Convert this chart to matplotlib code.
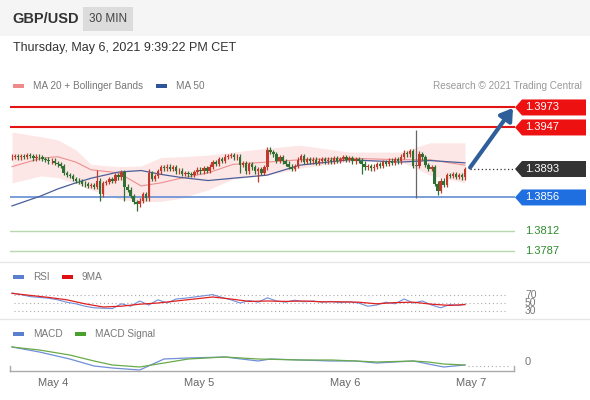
import matplotlib
matplotlib.use('Agg')
import matplotlib.pyplot as plt
from matplotlib.patches import Rectangle, Polygon, FancyBboxPatch
from matplotlib.lines import Line2D

plt.rcParams['font.family'] = ['Liberation Sans', 'DejaVu Sans']

# 30 min candles, GBP/USD, May 3 evening -> May 6 21:30
closes = [
    1.3909, 1.3910, 1.3908, 1.3910, 1.3909, 1.3911, 1.3910, 1.3907, 1.3909, 1.3908,
    1.3906, 1.3905, 1.3903, 1.3904, 1.3901, 1.3899, 1.3897, 1.3888, 1.3885, 1.3884,
    1.3880, 1.3878, 1.3877, 1.3874, 1.3873, 1.3871, 1.3872, 1.3870, 1.3878, 1.3860,
    1.3875, 1.3876, 1.3880, 1.3878, 1.3885, 1.3882, 1.3889, 1.3870, 1.3866, 1.3858,
    1.3850, 1.3847, 1.3852, 1.3860, 1.3855, 1.3888, 1.3880, 1.3884, 1.3890, 1.3895,
    1.3894, 1.3896, 1.3893, 1.3895, 1.3890, 1.3891, 1.3887, 1.3888, 1.3886, 1.3885,
    1.3889, 1.3892, 1.3890, 1.3894, 1.3891, 1.3896, 1.3902, 1.3900, 1.3906, 1.3904,
    1.3909, 1.3910, 1.3911, 1.3908, 1.3909, 1.3898, 1.3901, 1.3890, 1.3899, 1.3895,
    1.3890, 1.3893, 1.3888, 1.3895, 1.3918, 1.3915, 1.3912, 1.3904, 1.3908, 1.3903,
    1.3900, 1.3896, 1.3893, 1.3897, 1.3905, 1.3910, 1.3902, 1.3906, 1.3903, 1.3905,
    1.3901, 1.3904, 1.3906, 1.3903, 1.3905, 1.3903, 1.3907, 1.3904, 1.3906, 1.3908,
    1.3905, 1.3907, 1.3903, 1.3906, 1.3904, 1.3900, 1.3895, 1.3897, 1.3894, 1.3896,
    1.3899, 1.3897, 1.3902, 1.3900, 1.3904, 1.3901, 1.3906, 1.3903, 1.3909, 1.3914,
    1.3912, 1.3916, 1.3897, 1.3897, 1.3912, 1.3908, 1.3898, 1.3893, 1.3895, 1.3874,
    1.3865, 1.3878, 1.3872, 1.3885, 1.3884, 1.3886, 1.3883, 1.3885, 1.3882, 1.3893,
]
first_open = 1.3908
wick_hi = {28: 1.3892, 84: 1.3921, 129: 1.3918, 133: 1.3944, 134: 1.3916, 45: 1.3893}
wick_lo = {29: 1.3851, 37: 1.3852, 41: 1.3838, 81: 1.3876, 115: 1.3886,
           133: 1.3855, 140: 1.3859, 75: 1.3888}

# MA 20 + Bollinger bands, MA 50 (read at some bars)
band_idx = [0, 9.5, 15, 21, 26, 35, 42.5, 49, 55.6, 64.5, 72.7, 83.9, 94.7, 111, 127.6, 137.5, 149]
band_up = [1.3941, 1.3935, 1.3931, 1.3918, 1.3899, 1.3896, 1.3897, 1.3908, 1.3909, 1.3911,
           1.3915, 1.3920, 1.3924, 1.3915, 1.3915, 1.3927, 1.3927]
ma20 = [1.3896, 1.3907, 1.3909, 1.3902, 1.3892, 1.3888, 1.3871, 1.3875, 1.3881, 1.3888,
        1.3899, 1.3902, 1.3905, 1.3907, 1.3905, 1.3905, 1.3898]
band_lo = [1.3875, 1.3884, 1.3882, 1.3874, 1.3866, 1.3854, 1.3850, 1.3851, 1.3855, 1.3866,
           1.3880, 1.3885, 1.3894, 1.3903, 1.3903, 1.3885, 1.3875]
ma50 = [1.3845, 1.3858, 1.3867, 1.3875, 1.3881, 1.3889, 1.3891, 1.3886, 1.3882, 1.3878,
        1.3881, 1.3885, 1.3898, 1.3905, 1.3902, 1.3904, 1.3901]

levels_res = [1.3973, 1.3947]
level_pivot = 1.3856
levels_sup = [1.3812, 1.3787]
last_price = 1.3893

rsi_idx = list(range(0, 150, 3)) + [149]
rsi = [75, 71, 66, 64, 62, 58, 52, 48, 42, 38, 37, 36, 48, 42, 55, 45, 58, 50, 60, 62,
       65, 68, 71, 64, 58, 50, 56, 52, 63, 55, 52, 57, 53, 55, 52, 54, 51, 53, 50, 42,
       45, 52, 48, 60, 50, 55, 45, 38, 46, 44, 47]
rsi_ma_idx = list(range(0, 150, 6)) + [149]
rsi_ma = [74, 69, 64, 58, 48, 40, 42, 47, 50, 55, 60, 65, 60, 54, 55, 54, 55, 53, 53, 52,
          48, 51, 52, 47, 44, 46]

macd_idx = [0, 9, 19, 27, 33, 42, 50, 58, 70, 81, 85, 95, 105, 113, 120, 126, 132, 137, 142, 149]
macd = [19, 14, 7, 0, -2, -4, 7, 8, 9, 5, 7, 6, 5, 5, 3, 4, 5, 2, -1, 1]
signal_idx = [0, 9, 19, 27, 33, 42, 50, 58, 70, 81, 95, 105, 113, 120, 132, 137, 142, 149]
signal = [19, 16, 11, 5, 1, -1, 3, 7, 9, 7, 6, 6, 5, 4, 5, 4, 2, 1]

tick_pos = [13.5, 61.5, 109.5, 151]
tick_labels = ['May 4', 'May 5', 'May 6', 'May 7']

W, H = 590, 400
fig = plt.figure(figsize=(W / 100, H / 100), dpi=100)
fig.patch.set_facecolor('white')


def fx(x):
    return x / W


def fy(y):
    return 1 - y / H


def px_axes(x0, y0, x1, y1):
    a = fig.add_axes([fx(x0), fy(y1), (x1 - x0) / W, (y1 - y0) / H])
    a.set_axis_off()
    a.set_xlim(-0.66, 165.46)
    return a


# header
fig.add_artist(Rectangle((0, fy(36)), 1, 36 / H, transform=fig.transFigure,
                         facecolor='#f5f5f5', edgecolor='none'))
fig.add_artist(Rectangle((fx(83), fy(31)), 50 / W, 24 / H, transform=fig.transFigure,
                         facecolor='#dcdcdc', edgecolor='none'))
fig.text(fx(12), fy(19), 'GBP/USD', fontsize=10.5, fontweight='bold', color='#333333', va='center')
fig.text(fx(108), fy(19), '30 MIN', fontsize=8.5, color='#444444', va='center', ha='center')
fig.text(fx(13), fy(48), 'Thursday, May 6, 2021 9:39:22 PM CET', fontsize=9, color='#333333', va='center')

# separators
for ysep in [262, 319]:
    fig.add_artist(Line2D([0, 1], [fy(ysep)] * 2, transform=fig.transFigure, color='#e6e6e6', lw=1))


def legend_item(x, y, color, label):
    fig.add_artist(FancyBboxPatch((fx(x), fy(y + 2)), 11 / W, 4 / H, boxstyle='round,pad=0',
                                  transform=fig.transFigure, facecolor=color, edgecolor='none'))
    fig.text(fx(x + 20), fy(y), label, fontsize=7.2, color='#777777', va='center')


legend_item(13, 86, '#f08a8a', 'MA 20 + Bollinger Bands')
legend_item(156, 86, '#2e5597', 'MA 50')
fig.text(fx(582), fy(86), 'Research \u00a9 2021 Trading Central', fontsize=7.2, color='#999999',
         va='center', ha='right')
legend_item(13, 277, '#5b7fcf', 'RSI')
legend_item(62, 277, '#e01010', '9MA')
legend_item(13, 334, '#5b7fcf', 'MACD')
legend_item(75, 334, '#4aa02c', 'MACD Signal')

# main price panel
ax = px_axes(10, 95, 515, 262)
ax.set_ylim(1.37721, 1.39892)

ax.fill_between(band_idx, band_lo, band_up, color='#fde6e6', lw=0, zorder=1)
ax.plot(band_idx, ma20, color='#ec8f8f', lw=0.8, zorder=2)
ax.plot(band_idx, ma50, color='#4a5f9a', lw=0.9, zorder=2)

for lv in levels_res:
    ax.axhline(lv, color='#e31414', lw=1.5, zorder=1)
ax.axhline(level_pivot, color='#6f96d6', lw=1.3, zorder=1)
for lv in levels_sup:
    ax.axhline(lv, color='#b5d8ad', lw=1, zorder=1)

opens = [first_open] + closes[:-1]
for i, (o, c) in enumerate(zip(opens, closes)):
    hi = wick_hi.get(i, max(o, c) + 0.0003)
    lo = wick_lo.get(i, min(o, c) - 0.0003)
    if c > o:
        col = '#c0392b'
    elif c < o:
        col = '#2e7032'
    else:
        col = '#666666'
    ax.vlines(i, lo, hi, color=col, lw=0.9, zorder=3)
    ax.bar(i, max(abs(c - o), 0.0001), bottom=min(o, c), width=0.8, color=col, lw=0, zorder=4)

ax.plot([150.5, 165.4], [last_price] * 2, color='#333333', lw=0.9, ls=(0, (1, 2)), zorder=2)
ax.annotate('', xy=(164.8, 1.39723), xytext=(150.7, 1.3895),
            arrowprops=dict(arrowstyle='-|>,head_length=0.7,head_width=0.45',
                            color='#2f5f9a', lw=3, shrinkA=0, shrinkB=0), zorder=6)


def price_y(p):
    disp = ax.transData.transform((0, p))
    return fig.transFigure.inverted().transform(disp)[1]


def price_tag(p, face):
    yc = price_y(p)
    h = 8 / H
    pts = [(fx(515), yc), (fx(522), yc + h), (fx(586), yc + h), (fx(586), yc - h), (fx(522), yc - h)]
    fig.add_artist(Polygon(pts, closed=True, transform=fig.transFigure, facecolor=face, edgecolor='none'))
    fig.text(fx(525), yc, f'{p:.4f}', fontsize=8, color='white', va='center')


price_tag(levels_res[0], '#ee1111')
price_tag(levels_res[1], '#ee1111')
price_tag(last_price, '#333333')
price_tag(level_pivot, '#1f6fe0')
for lv in levels_sup:
    fig.text(fx(525), price_y(lv), f'{lv:.4f}', fontsize=8, color='#2e8b2e', va='center')

# RSI panel
ax_rsi = px_axes(10, 285, 515, 318)
ax_rsi.set_ylim(12.5, 95)
for lv in [70, 50, 30]:
    ax_rsi.plot([0.5, 162.5], [lv, lv], color='#aaaaaa', lw=0.8, ls=(0, (1, 2.5)))
    fig.text(fx(525), fy(303 - (lv - 50) * 0.4), str(lv), fontsize=7.5, color='#777777', va='center')
ax_rsi.plot(rsi_idx, rsi, color='#6f8fd8', lw=0.8)
ax_rsi.plot(rsi_ma_idx, rsi_ma, color='#e02020', lw=0.9)

# MACD panel
ax_macd = px_axes(10, 340, 515, 371)
ax_macd.set_ylim(-5, 26)
ax_macd.plot([150, 163], [0, 0], color='#aaaaaa', lw=0.8, ls=(0, (1, 2.5)))
ax_macd.plot(macd_idx, macd, color='#6f8fd8', lw=0.9)
ax_macd.plot(signal_idx, signal, color='#6aaa4a', lw=0.9)
fig.text(fx(525), fy(362), '0', fontsize=8, color='#777777', va='center')

# time axis
fig.add_artist(Line2D([fx(10), fx(514)], [fy(371)] * 2, transform=fig.transFigure, color='#aaaaaa', lw=1))
for xe in [10, 514]:
    fig.add_artist(Line2D([fx(xe)] * 2, [fy(371), fy(366)], transform=fig.transFigure, color='#aaaaaa', lw=1))
for tp, tl in zip(tick_pos, tick_labels):
    xd = ax_macd.transData.transform((tp, 0))[0]
    xf = fig.transFigure.inverted().transform((xd, 0))[0]
    fig.text(xf, fy(383), tl, fontsize=8, color='#666666', ha='center', va='center')

fig.savefig('out.png', dpi=100)
